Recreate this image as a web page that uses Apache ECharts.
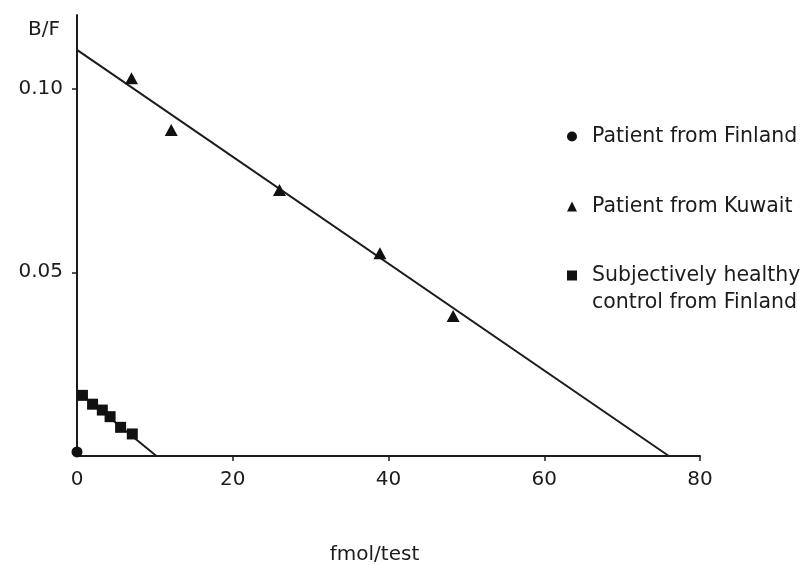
<!DOCTYPE html>
<html>
<head>
<meta charset="utf-8">
<script src="https://cdn.jsdelivr.net/npm/echarts@6/dist/echarts.min.js"></script>
<style>html,body{margin:0;padding:0;background:#fff;overflow:hidden}#c{width:811px;height:565px}</style>
</head>
<body>
<div id="c"></div>
<script>
// ---- data ----
const finlandPatient = [[0, 0.0011]];
const kuwaitPatient = [[7.0, 0.1028], [12.1, 0.0887], [26.0, 0.0724], [38.9, 0.0552], [48.3, 0.0381]];
const healthyControl = [[0.7, 0.0165], [2.0, 0.0141], [3.25, 0.0125], [4.25, 0.0107], [5.6, 0.0078], [7.1, 0.0060]];
const kuwaitFit = [[0, 0.1105], [76.0, 0]];
const controlFit = [[0, 0.0177], [10.2, 0]];
const xTickValues = [0, 20, 40, 60, 80];
const yTickValues = [0.05, 0.10];
const seriesNames = ['Patient from Finland', 'Patient from Kuwait', 'Subjectively healthy\ncontrol from Finland'];
const xAxisName = 'fmol/test';
const yAxisName = 'B/F';

const ink = '#1c1c1c';
const font = 'DejaVu Sans';
const chart = echarts.init(document.getElementById('c'), null, {renderer: 'canvas'});

function legendAt(name, top, extra) {
  return Object.assign({
    data: [name],
    orient: 'vertical', left: 567, top: top, padding: 0,
    itemWidth: 10, itemHeight: 10, selectedMode: false,
    textStyle: {color: ink, fontFamily: font, fontSize: 20.5, lineHeight: 20, padding: [0, 0, 0, 10]}
  }, extra || {});
}

chart.setOption({
  animation: false,
  backgroundColor: '#fff',
  grid: {left: 77, width: 623, top: 15, height: 441, containLabel: false, outerBoundsMode: 'none'},
  legend: [
    legendAt(seriesNames[0], 126),
    legendAt(seriesNames[1], 196),
    legendAt(seriesNames[2], 235, {
      formatter: n => '\n' + n,
      textStyle: {color: ink, fontFamily: font, fontSize: 20.5, lineHeight: 27, padding: [0, 0, 0, 10]}
    })
  ],
  graphic: [{
    type: 'text', left: 28, top: 20,
    style: {text: yAxisName, fill: ink, font: '20px "DejaVu Sans"'}
  }],
  xAxis: {
    type: 'value', min: 0, max: 80, interval: 20,
    name: xAxisName, nameLocation: 'middle', nameGap: 89,
    nameTextStyle: {color: ink, fontFamily: font, fontSize: 20, padding: [0, 28, 0, 0]},
    axisLine: {lineStyle: {color: ink, width: 2}},
    axisTick: {show: true, length: 5, inside: false, lineStyle: {color: ink, width: 1.5}, customValues: xTickValues.slice(1)},
    axisLabel: {color: ink, fontFamily: font, fontSize: 20, margin: 14, customValues: xTickValues, formatter: v => String(v)},
    splitLine: {show: false}
  },
  yAxis: {
    type: 'value', min: 0, max: 0.12, interval: 0.05,
    axisLine: {show: true, lineStyle: {color: ink, width: 2}},
    axisTick: {show: true, length: 5, lineStyle: {color: ink, width: 1.5}, customValues: yTickValues},
    axisLabel: {color: ink, fontFamily: font, fontSize: 20, margin: 14, customValues: yTickValues, formatter: v => v.toFixed(2)},
    splitLine: {show: false}
  },
  series: [
    {type: 'line', data: kuwaitFit, symbol: 'none', silent: true, lineStyle: {color: ink, width: 2}, z: 1},
    {type: 'line', data: controlFit, symbol: 'none', silent: true, lineStyle: {color: ink, width: 2}, z: 1},
    {name: seriesNames[0], type: 'scatter', data: finlandPatient, symbol: 'circle', symbolSize: 11, itemStyle: {color: '#111', opacity: 1}, z: 3},
    {name: seriesNames[1], type: 'scatter', data: kuwaitPatient, symbol: 'triangle', symbolSize: [13, 12], itemStyle: {color: '#111', opacity: 1}, z: 3},
    {name: seriesNames[2], type: 'scatter', data: healthyControl, symbol: 'rect', symbolSize: 11, itemStyle: {color: '#111', opacity: 1}, z: 3}
  ]
});
</script>
</body>
</html>
